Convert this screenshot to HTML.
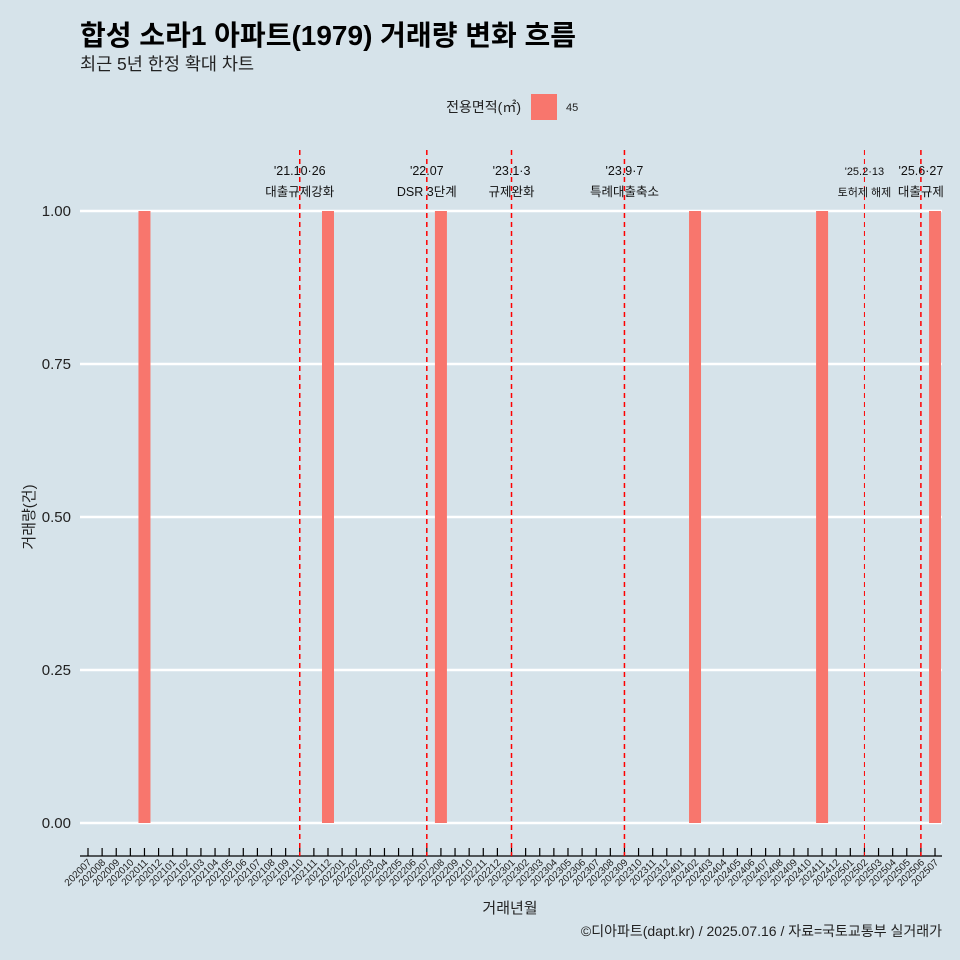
<!DOCTYPE html>
<html><head><meta charset="utf-8"><style>
body{margin:0;background:#d6e3ea;}
svg{display:block;font-family:"Liberation Sans","Noto Sans CJK KR",sans-serif;}
</style></head><body>
<svg id="c" width="960" height="960">
<rect width="960" height="960" fill="#d6e3ea"/>
<text x="80" y="45" font-size="28" font-weight="bold" fill="#000">합성 소라1 아파트(1979) 거래량 변화 흐름</text>
<text x="80" y="70" font-size="17.5" fill="#222">최근 5년 한정 확대 차트</text>
<text x="521" y="112" font-size="14" text-anchor="end" fill="#222">전용면적(㎡)</text>
<rect x="531" y="94" width="26" height="26" fill="#f8766d"/>
<text x="566" y="111" font-size="11" fill="#222">45</text>
<g id="plot"></g>
<text x="510" y="913" font-size="15" text-anchor="middle" fill="#222">거래년월</text>
<text x="34" y="517" font-size="15" text-anchor="middle" fill="#222" transform="rotate(-90 34 517)">거래량(건)</text>
<text x="942" y="936" font-size="14" text-anchor="end" fill="#222">©디아파트(dapt.kr) / 2025.07.16 / 자료=국토교통부 실거래가</text>
</svg>
<script>
const months = [];
for (let y = 2020; y <= 2025; y++) for (let m = 1; m <= 12; m++) {
  const k = y * 100 + m;
  if (k >= 202007 && k <= 202507) months.push(String(k));
}
const barMonths = ["202011","202112","202208","202402","202411","202507"];
const barValues = [1, 1, 1, 1, 1, 1];
const yTicks = [0, 0.25, 0.5, 0.75, 1];
const yTickLabels = ["0.00","0.25","0.50","0.75","1.00"];
const eventMonths = ["202110","202207","202301","202309","202502","202506"];
const eventDates = ["'21.10·26","'22.07","'23.1·3","'23.9·7","'25.2·13","'25.6·27"];
const eventNames = ["대출규제강화","DSR 3단계","규제완화","특례대출축소","토허제 해제","대출규제"];

const NS = "http://www.w3.org/2000/svg";
const g = document.getElementById("plot");
const x = m => 88 + months.indexOf(m) * 14.117;
const y = v => 823 - v * 612;
function mk(t, a) { const e = document.createElementNS(NS, t); for (const k in a) e.setAttribute(k, a[k]); g.appendChild(e); return e; }

yTicks.forEach((v, i) => {
  const l = mk("line", {x1: 80, x2: 942, y1: y(v), y2: y(v), stroke: "#fff", "stroke-width": 2.5});
  
  
  const t = mk("text", {x: 71, y: y(v) + 5, "font-size": 15, "text-anchor": "end", fill: "#222"});
  t.textContent = yTickLabels[i];
  
  
});

barMonths.forEach((m, i) => {
  const r = mk("rect", {x: x(m) - 6, y: y(barValues[i]), width: 12, height: y(0) - y(barValues[i]), fill: "#f8766d"});
  
  
});

const ax = mk("line", {x1: 80, x2: 942, y1: 856, y2: 856, stroke: "#000", "stroke-width": 1.2});


months.forEach(m => {
  const tk = mk("line", {x1: x(m), x2: x(m), y1: 848, y2: 856, stroke: "#000", "stroke-width": 1.2});
  
  
  const t = mk("text", {x: x(m) + 4, y: 863, "font-size": 10, "text-anchor": "end", fill: "#222", transform: `rotate(-45 ${x(m) + 4} 863)`});
  t.textContent = m;
  
  
});

eventMonths.forEach((m, i) => {
  const thin = m === "202502";
  const l = mk("line", {x1: x(m), x2: x(m), y1: 150, y2: 856, stroke: "#ff0000", "stroke-width": thin ? 1 : 1.5, "stroke-dasharray": "5,4"});
  
  
  const fs = thin ? 11 : 12.5;
  const t1 = mk("text", {x: x(m), y: 175, "font-size": fs, "text-anchor": "middle", fill: "#111"});
  t1.textContent = eventDates[i];
  
  
  const t2 = mk("text", {x: x(m), y: 196, "font-size": fs, "text-anchor": "middle", fill: "#111"});
  t2.textContent = eventNames[i];
  
  
});
</script>
</body></html>
